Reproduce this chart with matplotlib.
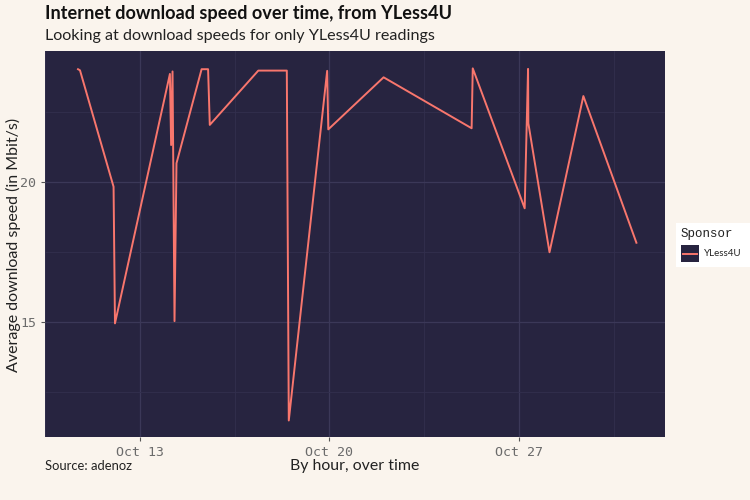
import matplotlib
matplotlib.use("Agg")
import matplotlib.pyplot as plt
import matplotlib.dates as mdates
from matplotlib.patches import Rectangle
from matplotlib.lines import Line2D
import pandas as pd

# readings for the YLess4U sponsor
times = [
    "2021-10-10 17:15", "2021-10-10 19:00", "2021-10-12 00:45", "2021-10-12 02:00",
    "2021-10-14 02:40", "2021-10-14 03:45", "2021-10-14 05:00", "2021-10-14 06:45",
    "2021-10-14 08:30", "2021-10-15 06:45", "2021-10-15 12:30", "2021-10-15 14:00",
    "2021-10-17 09:00", "2021-10-18 10:15", "2021-10-18 12:00", "2021-10-19 22:00",
    "2021-10-19 23:00", "2021-10-22 00:00", "2021-10-25 06:00", "2021-10-25 07:00",
    "2021-10-27 05:00", "2021-10-27 08:00", "2021-10-27 08:15", "2021-10-28 03:00",
    "2021-10-29 09:00", "2021-10-31 08:00",
]
speeds = [
    24.04, 24.00, 19.84, 14.96,
    23.87, 21.33, 23.96, 15.04,
    20.68, 24.04, 24.04, 22.05,
    23.99, 23.99, 11.49, 23.98,
    21.89, 23.75, 21.93, 24.07,
    19.07, 24.05, 22.11, 17.50,
    23.08, 17.84,
]
sponsor = "YLess4U"
major_ticks = ["2021-10-13", "2021-10-20", "2021-10-27"]
minor_ticks = ["2021-10-09 12:00", "2021-10-16 12:00", "2021-10-23 12:00", "2021-10-30 12:00"]
y_major = [15, 20]
y_minor = [12.5, 17.5, 22.5]
x_range = ["2021-10-09 16:20", "2021-11-01 09:20"]
y_range = [10.90, 24.69]

bg = "#faf4ed"
panel = "#272440"
line_col = "#f8766d"

W, H = 750, 500
fig = plt.figure(figsize=(7.5, 5), dpi=100, facecolor=bg)
ax = fig.add_axes([45 / W, 1 - 437 / H, 620 / W, 386 / H])
ax.set_facecolor(panel)

t = pd.to_datetime(times)
ax.plot(t, speeds, color=line_col, lw=1.4, zorder=3)
ax.set_xlim(pd.to_datetime(x_range))
ax.set_ylim(y_range)

ax.set_xticks(pd.to_datetime(major_ticks))
ax.set_xticks(pd.to_datetime(minor_ticks), minor=True)
ax.xaxis.set_major_formatter(mdates.DateFormatter("%b %d"))
ax.set_yticks(y_major)
ax.set_yticks(y_minor, minor=True)

ax.grid(which="major", color="#3b3858", lw=0.9)
ax.grid(which="minor", color="#322f4e", lw=0.6)
ax.set_axisbelow(True)
for s in ax.spines.values():
    s.set_visible(False)

ax.tick_params(which="major", length=3, color="#555555", width=0.8,
               labelsize=9.5, labelcolor="#6b6b6b")
ax.tick_params(which="minor", length=0)
for lab in ax.get_xticklabels() + ax.get_yticklabels():
    lab.set_family("DejaVu Sans Mono")

fig.text(45 / W, 1 - 14 / H, "Internet download speed over time, from YLess4U",
         fontsize=13.1, fontweight="bold", family="Lato", color="#111111", va="center")
fig.text(45 / W, 1 - 36 / H, "Looking at download speeds for only YLess4U readings",
         fontsize=11.6, family="Lato", color="#222222", va="center")
fig.text(355 / W, 1 - 466 / H, "By hour, over time", fontsize=11.4, family="Lato",
         color="#222222", ha="center", va="center")
fig.text(13 / W, 1 - 245 / H, "Average download speed (in Mbit/s)", fontsize=11.5,
         family="Lato", color="#222222", rotation=90, ha="center", va="center")
fig.text(45 / W, 1 - 466 / H, "Source: adenoz", fontsize=9.4, family="Lato",
         color="#222222", va="center")

# legend drawn by hand so the key gets the dark panel background
fig.add_artist(Rectangle((676 / W, 1 - 267 / H), 74 / W, 44 / H,
                         transform=fig.transFigure, facecolor="white", edgecolor="none"))
fig.text(681 / W, 1 - 234 / H, "Sponsor", fontsize=9, family="Liberation Mono",
         color="#222222", va="center")
fig.add_artist(Rectangle((681 / W, 1 - 262 / H), 18 / W, 17 / H,
                         transform=fig.transFigure, facecolor=panel, edgecolor="none"))
fig.add_artist(Line2D([683 / W, 697 / W], [1 - 253.5 / H] * 2,
                      transform=fig.transFigure, color=line_col, lw=1.4))
fig.text(704 / W, 1 - 253.5 / H, sponsor, fontsize=7, family="Lato",
         color="#222222", va="center")

fig.savefig("out.png", dpi=100, facecolor=bg)
